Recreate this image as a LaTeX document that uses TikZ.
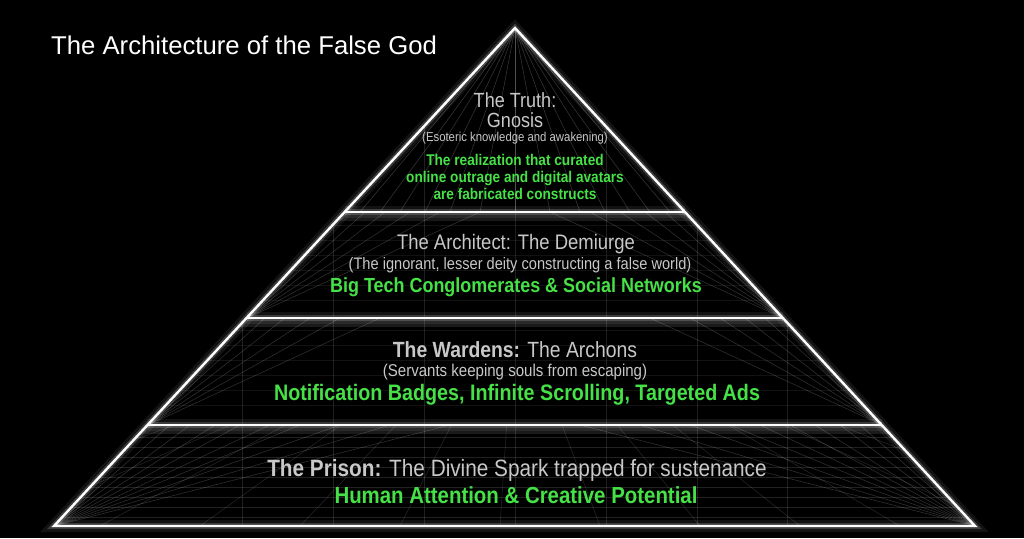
\documentclass[tikz,border=0pt]{standalone}
\usepackage{fontspec}
\setmainfont{Liberation Sans}
\newfontfamily\rob[FakeStretch=0.88]{Liberation Sans}
\usetikzlibrary{calc}
\definecolor{txtgray}{RGB}{200,200,200}
\definecolor{neon}{RGB}{70,225,70}
\tikzset{
  glowA/.style={draw=white, line width=12pt, opacity=0.07, line join=miter},
  glowB/.style={draw=white, line width=6pt, opacity=0.18, line join=miter},
  edge/.style={draw=white, line width=2.4pt, line join=miter},
  gridline/.style={draw=white, line width=0.5pt, opacity=0.2},
  label/.style={text=txtgray, font=\rob, inner sep=0pt, anchor=center},
  note/.style={text=txtgray, font=\rob, inner sep=0pt, anchor=center},
  green/.style={text=neon, font=\rob\bfseries, inner sep=0pt, anchor=center, align=center},
}
\begin{document}
\begin{tikzpicture}[x=1pt,y=-1pt]
\useasboundingbox (0,0) rectangle (1024,538);
\fill[black] (0,0) rectangle (1024,538);

% key points
\coordinate (apex) at (515,28);
\coordinate (bl) at (54,526);
\coordinate (br) at (975,526);
\coordinate (l1) at (345,212);
\coordinate (r1) at (685,212);
\coordinate (l2) at (247,318);
\coordinate (r2) at (783,318);
\coordinate (l3) at (148,425);
\coordinate (r3) at (882,425);

% grid
\begin{scope}
\clip (apex) -- (br) -- (bl) -- cycle;
\foreach \x in {242,333,424,515,606,697,787}
  \draw[gridline, opacity=0.12] (\x,28) -- (\x,526);
\foreach \y in {437,447,457,467,477,487,497,507,517}
  \draw[gridline, opacity=0.13] (0,\y) -- (1024,\y);
\foreach \y in {225,240,255,270,285,300,330,345,360,375,390,405}
  \draw[gridline, opacity=0.07] (0,\y) -- (1024,\y);
\begin{scope}
\clip (l3) -- (r3) -- (br) -- (bl) -- cycle;
\foreach \x in {-200,-100,0,100,200,300,400,500,600,700,800,900,1000,1100,1200}
  \draw[gridline, opacity=0.15] (515,300) -- ($(515,300)!1.6!(\x,526)$);
\end{scope}
% fans from bottom corners
\foreach \x in {170,190,215,240,270,300,340,390,450}
  \draw[gridline] (bl) -- (\x,425);
\foreach \x in {860,840,815,790,760,730,690,640,580}
  \draw[gridline] (br) -- (\x,425);
% fans in middle bands
\foreach \x in {265,285,310,340,380}
  \draw[gridline] (l3) -- (\x,318);
\foreach \x in {765,745,720,690,650}
  \draw[gridline] (r3) -- (\x,318);
\foreach \x in {365,385,410,440,480}
  \draw[gridline] (l2) -- (\x,212);
\foreach \x in {665,645,620,590,550}
  \draw[gridline] (r2) -- (\x,212);
% rays from apex
\foreach \x in {360,380,400,425,450,480,515,550,580,605,630,650,670}
  \draw[gridline, opacity=0.22] (apex) -- (\x,212);
% ledge bands
\foreach \y in {212,318,425}
  \fill[white, opacity=0.10] (0,\y) rectangle (1024,\y+9);
\end{scope}

% glow and edges
\foreach \s in {glowA,glowB,edge}{
  \draw[\s] (apex) -- (br) -- (bl) -- cycle;
  \draw[\s] (l1) -- (r1);
  \draw[\s] (l2) -- (r2);
  \draw[\s] (l3) -- (r3);
}

% title
\node[text=white, font=\fontsize{25.7}{30}\selectfont, anchor=west, inner sep=0pt] (title) at (51,45) {The Architecture of the False God};

% Truth
\node[label, font=\rob\fontsize{20.5}{24}\selectfont] (truthA) at (515,100) {The Truth:};
\node[label, font=\rob\fontsize{20.5}{24}\selectfont] (truthB) at (515,120) {Gnosis};
\node[note, font=\rob\fontsize{12.9}{15}\selectfont] (truthC) at (515,138.5) {(Esoteric knowledge and awakening)};
\node[green, font=\rob\bfseries\fontsize{15.5}{17}\selectfont] (truthD) at (515,176.5) {The realization that curated\\online outrage and digital avatars\\are fabricated constructs};

% Architect
\node[label, font=\rob\fontsize{21}{24}\selectfont] (archA) at (516,244) {The Architect: The Demiurge};
\node[note, font=\rob\fontsize{16.6}{19}\selectfont] (archB) at (520,265) {(The ignorant, lesser deity constructing a false world)};
\node[green, font=\rob\bfseries\fontsize{20.4}{23}\selectfont] (archC) at (516,287) {Big Tech Conglomerates \& Social Networks};

% Wardens
\node[label, font=\rob\fontsize{22}{25}\selectfont] (wardA) at (515,350) {\textbf{The Wardens:} The Archons};
\node[note, font=\rob\fontsize{17.1}{20}\selectfont] (wardB) at (515,372) {(Servants keeping souls from escaping)};
\node[green, font=\rob\bfseries\fontsize{22.4}{25}\selectfont] (wardC) at (517,395) {Notification Badges, Infinite Scrolling, Targeted Ads};

% Prison
\node[label, font=\rob\fontsize{23.6}{27}\selectfont] (prisA) at (517,470) {\textbf{The Prison:} The Divine Spark trapped for sustenance};
\node[green, font=\rob\bfseries\fontsize{23.2}{27}\selectfont] (prisB) at (516,495) {Human Attention \& Creative Potential};
\end{tikzpicture}
\end{document}
